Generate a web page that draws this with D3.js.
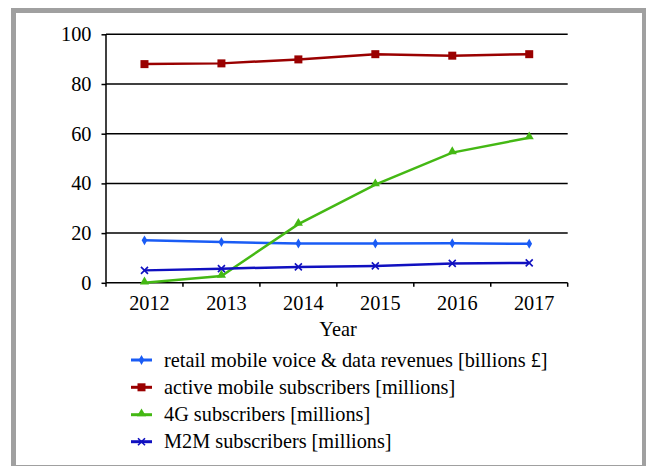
<!DOCTYPE html>
<html><head><meta charset="utf-8">
<script src="https://cdn.jsdelivr.net/npm/d3@7"></script>
<style>html,body{margin:0;padding:0;background:#fff}svg{display:block}</style>
</head><body>
<svg id="c" width="646" height="466"></svg>
<script>
const years = ["2012","2013","2014","2015","2016","2017"];
const yTicks = [0,20,40,60,80,100];
const retail = [17.1,16.4,15.8,15.8,15.9,15.7];
const active = [88.0,88.3,89.9,92.0,91.4,92.0];
const g4 = [0,2.7,23.6,39.5,52.4,58.4];
const m2m = [5.0,5.7,6.4,6.8,7.8,8.0];
const seriesNames = ["retail mobile voice & data revenues [billions £]","active mobile subscribers [millions]","4G subscribers [millions]","M2M subscribers [millions]"];
const seriesColors = ["#1a5cf5","#9a0000","#44b814","#1010c0"];
const seriesMarkers = ["diamond","square","triangle","x"];
const seriesData = [retail, active, g4, m2m];

const svg = d3.select("#c");
const font = "'Liberation Serif','Times New Roman',serif";
const fs = 20.3;

// frame
svg.append("rect").attr("x",13.5).attr("y",10.5).attr("width",631).attr("height",457)
  .attr("fill","none").attr("stroke","#a0a0a0").attr("stroke-width",5);

const x = d3.scaleBand().domain(years).range([106,567.7]).padding(0);
const y = d3.scaleLinear().domain([0,100]).range([282.8,34.3]);

// gridlines
svg.append("g").selectAll("line").data(yTicks.filter(d=>d>0)).join("line")
  .attr("x1",106).attr("x2",567.7).attr("y1",d=>y(d)).attr("y2",d=>y(d))
  .attr("stroke","#000").attr("stroke-width",1.5);

// y axis
const ya = svg.append("g").attr("transform","translate(106,0)")
  .call(d3.axisLeft(y).tickValues(yTicks).tickSize(4.5).tickPadding(9));
ya.select(".domain").attr("stroke","#000").attr("stroke-width",1.5).attr("d","M0,"+y(0)+"V"+y(100));
ya.selectAll(".tick line").attr("stroke-width",1.5);
ya.selectAll("text").attr("font-family",font).attr("font-size",fs).attr("fill","#000").attr("dx",-1);

// x axis
const xa = svg.append("g").attr("transform","translate(0,"+y(0)+")")
  .call(d3.axisBottom(x).tickSize(0).tickPadding(13));
xa.select(".domain").attr("stroke","#000").attr("stroke-width",1.5).attr("d","M106,0H567.7");
xa.selectAll("text").attr("font-family",font).attr("font-size",fs).attr("fill","#000").attr("dx",5);
const bounds = years.map(d=>x(d)).concat([x.range()[1]]);
xa.append("g").selectAll("line").data(bounds).join("line")
  .attr("x1",d=>d).attr("x2",d=>d).attr("y1",0).attr("y2",4)
  .attr("stroke","#000").attr("stroke-width",1.5);

svg.append("text").attr("x",338).attr("y",336).attr("text-anchor","middle")
  .attr("font-family",font).attr("font-size",fs).text("Year");

function marker(g, type, color, cx, cy){
  if(type==="diamond"){
    g.append("path").attr("d",d3.symbol(d3.symbolDiamond,28)()).attr("transform",`translate(${cx},${cy})`).attr("fill",color);
  } else if(type==="square"){
    g.append("rect").attr("x",cx-4).attr("y",cy-4).attr("width",8).attr("height",8).attr("fill",color);
  } else if(type==="triangle"){
    g.append("path").attr("d",d3.symbol(d3.symbolTriangle,36)()).attr("transform",`translate(${cx},${cy-1})`).attr("fill",color);
  } else {
    g.append("path").attr("d",`M${cx-3.5},${cy-3.5}L${cx+3.5},${cy+3.5}M${cx-3.5},${cy+3.5}L${cx+3.5},${cy-3.5}`)
      .attr("stroke",color).attr("stroke-width",1.6);
  }
}

const xc = d => x(d) + x.bandwidth()/2;
const line = d3.line().x((d,i)=>xc(years[i])).y(d=>y(d));
seriesData.forEach((vals,si)=>{
  const g = svg.append("g");
  g.append("path").datum(vals).attr("d",line).attr("fill","none")
    .attr("stroke",seriesColors[si]).attr("stroke-width",2.5);
  vals.forEach((v,i)=>marker(g,seriesMarkers[si],seriesColors[si],xc(years[i]),y(v)));
});

// legend
const legY = [360,387.3,414.7,441.7];
seriesNames.forEach((n,i)=>{
  const g = svg.append("g");
  g.append("line").attr("x1",131).attr("x2",152).attr("y1",legY[i]).attr("y2",legY[i])
    .attr("stroke",seriesColors[i]).attr("stroke-width",3);
  marker(g,seriesMarkers[i],seriesColors[i],141.5,legY[i]);
  g.append("text").attr("x",164).attr("y",legY[i]+6.5).attr("font-family",font).attr("font-size",fs)
    .attr("fill","#000").text(n);
});
</script>
</body></html>
